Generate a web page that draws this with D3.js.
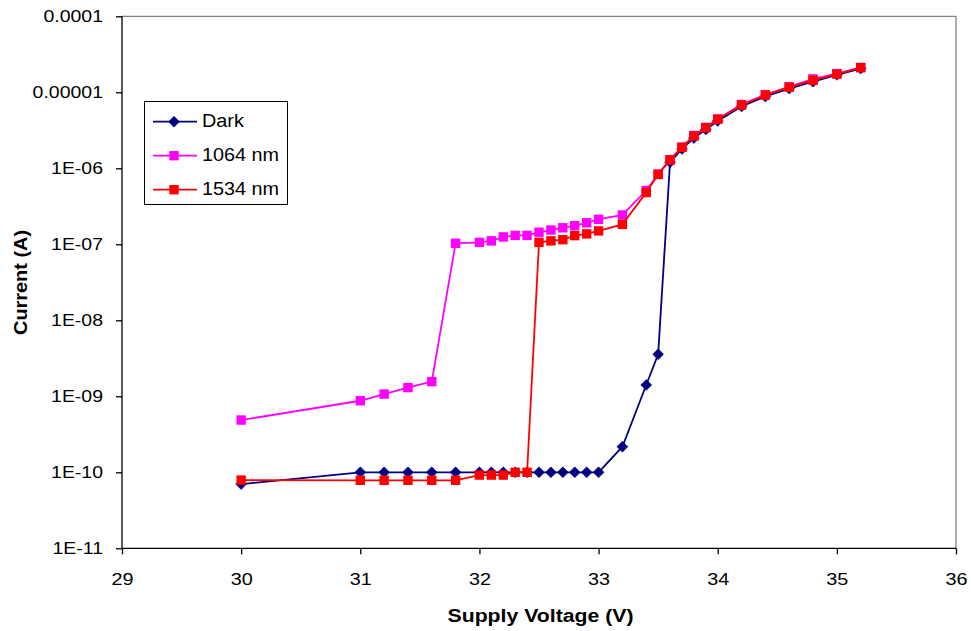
<!DOCTYPE html>
<html><head><meta charset="utf-8">
<script src="https://cdn.jsdelivr.net/npm/d3@7"></script>
<style>body{margin:0;background:#fff;} text{font-family:"Liberation Sans",Arial,sans-serif;}</style>
</head><body><svg id="c" width="971" height="631"></svg>
<script>
const darkV = [30,31,31.2,31.4,31.6,31.8,32.0,32.1,32.2,32.3,32.4,32.5,32.6,32.7,32.8,32.9,33.0,33.2,33.4,33.5,33.6,33.7,33.8,33.9,34.0,34.2,34.4,34.6,34.8,35.0,35.2];
const darkI = [7.0e-11,1e-10,1e-10,1e-10,1e-10,1e-10,1e-10,1e-10,1e-10,1e-10,1e-10,1e-10,1e-10,1e-10,1e-10,1e-10,1e-10,2.17e-10,1.41e-9,3.57e-9,1.2e-6,1.8e-6,2.5e-6,3.25e-6,4.2e-6,6.5e-6,8.8e-6,1.12e-5,1.38e-5,1.7e-5,2.05e-5];
const nm1064V = [30,31,31.2,31.4,31.6,31.8,32.0,32.1,32.2,32.3,32.4,32.5,32.6,32.7,32.8,32.9,33.0,33.2,33.4,33.5,33.6,33.7,33.8,33.9,34.0,34.2,34.4,34.6,34.8,35.0,35.2];
const nm1064I = [4.87e-10,8.74e-10,1.07e-9,1.30e-9,1.56e-9,1.03e-7,1.06e-7,1.11e-7,1.25e-7,1.31e-7,1.31e-7,1.44e-7,1.54e-7,1.65e-7,1.76e-7,1.92e-7,2.13e-7,2.43e-7,5.1e-7,8.4e-7,1.3e-6,1.9e-6,2.7e-6,3.45e-6,4.45e-6,6.9e-6,9.3e-6,1.18e-5,1.5e-5,1.76e-5,2.12e-5];
const nm1534V = [30,31,31.2,31.4,31.6,31.8,32.0,32.1,32.2,32.3,32.4,32.5,32.6,32.7,32.8,32.9,33.0,33.2,33.4,33.5,33.6,33.7,33.8,33.9,34.0,34.2,34.4,34.6,34.8,35.0,35.2];
const nm1534I = [7.9e-11,7.85e-11,7.85e-11,7.85e-11,7.85e-11,7.85e-11,9.2e-11,9.2e-11,9.2e-11,1e-10,1e-10,1.06e-7,1.11e-7,1.15e-7,1.30e-7,1.37e-7,1.50e-7,1.83e-7,4.8e-7,8.3e-7,1.29e-6,1.89e-6,2.66e-6,3.42e-6,4.42e-6,6.8e-6,9.2e-6,1.17e-5,1.44e-5,1.74e-5,2.11e-5];
const xTicks = [29,30,31,32,33,34,35,36];
const yTicks = [1e-11,1e-10,1e-9,1e-8,1e-7,1e-6,1e-5,1e-4];
const yTickLabels = ["1E-11","1E-10","1E-09","1E-08","1E-07","1E-06","0.00001","0.0001"];
const seriesNames = ["Dark","1064 nm","1534 nm"];
const seriesColors = ["#000080","#FF00FF","#FF0000"];

const svg = d3.select("#c");
const L=122, R=956, T=16.3, B=548.3;
const x = d3.scaleLinear().domain([29,36]).range([L,R]);
const y = d3.scaleLog().domain([1e-11,1e-4]).range([B,T]);

function stretch(sel, f){
  sel.each(function(){
    const w = this.getComputedTextLength();
    d3.select(this).attr("textLength", w*f).attr("lengthAdjust","spacingAndGlyphs");
  });
}

// frame
svg.append("line").attr("x1",L).attr("x2",R).attr("y1",T).attr("y2",T).attr("stroke","#808080").attr("stroke-width",1.3);
svg.append("line").attr("x1",R).attr("x2",R).attr("y1",T).attr("y2",B).attr("stroke","#808080").attr("stroke-width",1.3);

const xAxis = svg.append("g").attr("transform",`translate(0,${B})`)
  .call(d3.axisBottom(x).tickValues(xTicks).tickSize(6).tickPadding(19).tickFormat(d3.format("d")));
const yAxis = svg.append("g").attr("transform",`translate(${L},0)`)
  .call(d3.axisLeft(y).tickValues(yTicks).tickSize(6).tickPadding(13).tickFormat((d,i)=>yTickLabels[i]));
[xAxis,yAxis].forEach(g=>{
  g.selectAll("path").attr("stroke","#000").attr("stroke-width",1.3);
  g.selectAll("line").attr("stroke","#000").attr("stroke-width",1.3);
  g.selectAll("text").attr("font-size",16.5).attr("fill","#000").attr("font-family","Liberation Sans, Arial, sans-serif");
});
xAxis.selectAll("path").attr("d",`M${L},0H${R}`);
yAxis.selectAll("path").attr("d",`M0,${B}V${T}`);
stretch(xAxis.selectAll("text"),1.2);
stretch(yAxis.selectAll("text"),1.18);

const xt = svg.append("text").attr("x",540.5).attr("y",622).attr("text-anchor","middle")
  .attr("font-size",18).attr("font-weight","bold").text("Supply Voltage (V)");
xt.attr("textLength",186).attr("lengthAdjust","spacingAndGlyphs");
const yt = svg.append("text").attr("transform","translate(27,282.5) rotate(-90)").attr("text-anchor","middle")
  .attr("font-size",18).attr("font-weight","bold").text("Current (A)");
yt.attr("textLength",105).attr("lengthAdjust","spacingAndGlyphs");

const data = [
  {v:darkV,i:darkI,type:"diamond"},
  {v:nm1064V,i:nm1064I,type:"square"},
  {v:nm1534V,i:nm1534I,type:"square"}
];
const line = d3.line().x(d=>x(d[0])).y(d=>y(d[1]));
function marker(g,type,color,cx,cy){
  if(type==="diamond"){
    g.append("path").attr("d",`M${cx},${cy-5.5}L${cx+5.5},${cy}L${cx},${cy+5.5}L${cx-5.5},${cy}Z`).attr("fill",color).attr("stroke",color).attr("stroke-width",0.5);
  } else {
    g.append("rect").attr("x",cx-4.7).attr("y",cy-4.7).attr("width",9.4).attr("height",9.4).attr("fill",color);
  }
}
data.forEach((s,k)=>{
  const pts = s.v.map((v,j)=>[v,s.i[j]]);
  const g = svg.append("g");
  g.append("path").attr("d",line(pts)).attr("fill","none").attr("stroke",seriesColors[k]).attr("stroke-width",1.8);
  pts.forEach(p=>marker(g,s.type,seriesColors[k],x(p[0]),y(p[1])));
});

// legend
const lg = svg.append("g");
lg.append("rect").attr("x",144.5).attr("y",101.5).attr("width",143).attr("height",103).attr("fill","#fff").attr("stroke","#000").attr("stroke-width",1);
seriesNames.forEach((n,k)=>{
  const yy = 121.7 + k*34;
  lg.append("line").attr("x1",153).attr("x2",197).attr("y1",yy).attr("y2",yy).attr("stroke",seriesColors[k]).attr("stroke-width",1.8);
  marker(lg,data[k].type,seriesColors[k],174,yy);
  const t = lg.append("text").attr("x",202).attr("y",yy+5.5).attr("font-size",18).text(n);
  stretch(t,1.1);
});
</script></body></html>
